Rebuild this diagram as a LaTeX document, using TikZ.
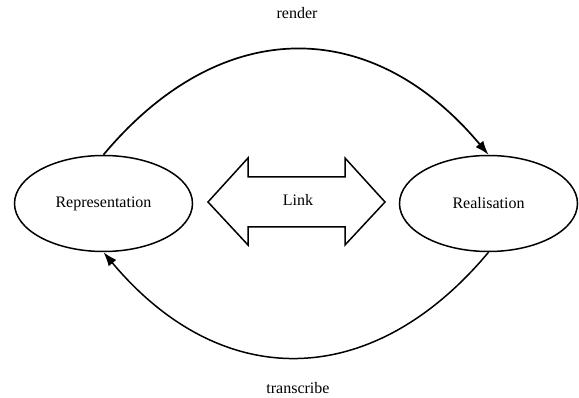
\documentclass[tikz,border=0pt]{standalone}
\usepackage{fontspec}
\setmainfont{Liberation Serif}
\usetikzlibrary{shapes.geometric,arrows.meta}

\tikzset{
  state/.style={draw, ellipse, line width=1.5pt, inner sep=0pt,
                minimum width=178pt, minimum height=96pt},
  flow/.style={line width=1.7pt, -{Latex[length=14pt,width=10pt]}},
  caption/.style={anchor=base, inner sep=0pt},
  linkshape/.style={draw, line width=1.5pt, line join=miter},
}

\begin{document}
\begin{tikzpicture}[x=1pt, y=-1pt, font=\fontsize{16}{19}\selectfont]
  \useasboundingbox (0,0) rectangle (579,398);

  % the two states
  \node[state] (rep)  at (103.5,203.5) {Representation};
  \node[state] (real) at (488.5,203.5) {Realisation};

  % two-headed link arrow between them
  \draw[linkshape] (208,202) -- (248,158) -- (248,177) -- (345,177)
    -- (345,158) -- (385,202) -- (345,245) -- (345,227) -- (248,227)
    -- (248,245) -- cycle;
  \node[caption] (link) at (298,206) {Link};

  % curved transitions
  \draw[flow] (rep.north) .. controls +(117,-140) and +(-117,-140) .. (real.north);
  \draw[flow, line width=1.5pt] (real.south) .. controls +(-117,140) and +(117,140) .. (rep.south);

  \node[caption] (render) at (297,19) {render};
  \node[caption] (transcribe) at (298,394) {transcribe};
\end{tikzpicture}
\end{document}
